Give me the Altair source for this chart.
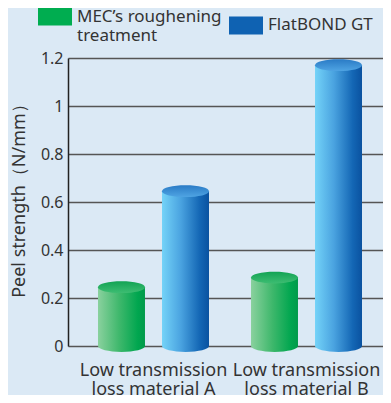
import altair as alt
import pandas as pd

materials = ["Low transmission loss material A", "Low transmission loss material B"]
series_names = ["MEC’s roughening treatment", "FlatBOND GT"]
mec_values = [0.245, 0.285]
flatbond_values = [0.645, 1.17]
y_ticks = [0, 0.2, 0.4, 0.6, 0.8, 1.0, 1.2]
legend_colors = ["#00ad50", "#0f62b2"]

rows = []
for m, v in zip(materials, mec_values):
    rows.append({"material": m, "series": series_names[0], "value": v})
for m, v in zip(materials, flatbond_values):
    rows.append({"material": m, "series": series_names[1], "value": v})
df = pd.DataFrame(rows)

ELLIPSE = "M-1,0A1,0.25,0,1,0,1,0A1,0.25,0,1,0,-1,0Z"
RECT = "M-1,-0.53H1V0.53H-1Z"
TXT = "#333333"
FONT = "Noto Sans"


def grad(stops, vertical=False):
    return alt.LinearGradient(
        gradient="linear",
        stops=[alt.GradientStop(color=c, offset=o) for o, c in stops],
        x1=0, x2=0 if vertical else 1, y1=0, y2=1 if vertical else 0,
    )


green_side = grad([(0, "#8ad19e"), (0.45, "#3fb86c"), (0.85, "#00a64f"), (1, "#019a4a")])
green_top = grad([(0, "#13a354"), (1, "#3dbd72")], vertical=True)
blue_side = grad([(0, "#74d3f8"), (0.4, "#4aa3e0"), (0.8, "#1467b5"), (1, "#0a52a0")])
blue_top = grad([(0, "#2a7bc6"), (1, "#4fa4e3")], vertical=True)

yscale = alt.Scale(domain=[0, 1.2], nice=False)
yaxis = alt.Axis(
    values=y_ticks, format="~g", labelFontSize=16, labelColor=TXT, labelFont=FONT,
    labelPadding=5, ticks=False, domainColor="#222222", domainWidth=1.5,
    gridColor="#555555", gridWidth=1.3, titleFontSize=18, titleFont=FONT,
    titleFontWeight="normal", titleColor=TXT, titleAngle=270, titleX=-48.5, titleY=138,
    titleAlign="center", titleBaseline="middle",
)
YTITLE = "Peel strength（N/mm）"

x_enc = alt.X(
    "material:N", sort=materials,
    scale=alt.Scale(paddingInner=0, paddingOuter=0.0294, align=1),
    axis=alt.Axis(
        title=None, labelAngle=0, labelFontSize=18, labelColor=TXT, labelFont=FONT,
        labelPadding=15, ticks=False, domain=False, labelLineHeight=19.5, labelBaseline="top",
        labelExpr="[slice(datum.label, 0, 16), slice(datum.label, 17)]", labelLimit=300,
    ),
)
xo_enc = alt.XOffset(
    "series:N", sort=series_names,
    scale=alt.Scale(domain=series_names, paddingInner=0.266, paddingOuter=0.328),
)

base = alt.Chart(df).encode(x=x_enc, xOffset=xo_enc)


def cylinder(name, side, top):
    d = base.transform_filter(alt.datum.series == name)
    bottom = d.transform_calculate(zero="0").mark_point(
        shape=ELLIPSE, size=2209, filled=True, fill=side, opacity=1, strokeWidth=0
    ).encode(y=alt.Y("zero:Q", scale=yscale, axis=yaxis, title=YTITLE))
    body = d.mark_bar(color=side).encode(
        y=alt.Y("value:Q", scale=yscale, axis=yaxis, title=YTITLE)
    )
    cap = d.mark_point(
        shape=ELLIPSE, size=2209, filled=True, fill=top, opacity=1, strokeWidth=0
    ).encode(y=alt.Y("value:Q", scale=yscale, axis=yaxis, title=YTITLE))
    return [bottom, body, cap]


legend_layer = base.mark_point(filled=True, opacity=0, size=1).encode(
    y=alt.Y("value:Q", scale=yscale, axis=yaxis, title=YTITLE),
    color=alt.Color(
        "series:N", sort=series_names,
        scale=alt.Scale(domain=series_names, range=legend_colors),
        legend=alt.Legend(
            title=None, orient="none", legendX=-30, legendY=-58.5, direction="horizontal",
            symbolType=RECT, symbolSize=1156, symbolStrokeWidth=0, symbolOpacity=1,
            labelFont=FONT, labelFontSize=17, labelColor=TXT, labelOffset=5,
            labelExpr="datum.label == 'MEC’s roughening treatment' ? ['MEC’s roughening', 'treatment'] : datum.label",
            labelBaseline="middle", columnPadding=7, padding=0,
            labelLimit=300, rowPadding=0,
        ),
    ),
)

layers = cylinder(series_names[0], green_side, green_top) + cylinder(series_names[1], blue_side, blue_top)
chart = alt.layer(*layers, legend_layer).properties(
    width=315, height=288,
    padding={"left": 60, "top": 50, "right": 0, "bottom": 49},
    autosize=alt.AutoSizeParams(type="none"),
).configure(background="#dbe9f5").configure_view(strokeWidth=0)

chart.save("out.html", embed_options={"renderer": "svg", "actions": False})
